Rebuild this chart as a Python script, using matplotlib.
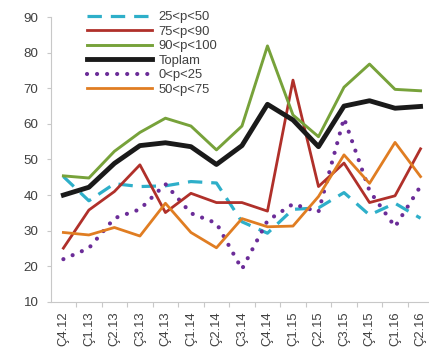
import matplotlib
matplotlib.use("Agg")
import matplotlib.pyplot as plt

plt.rcParams['font.family'] = ['Liberation Sans', 'DejaVu Sans']

quarters = ["Ç4.12", "Ç1.13", "Ç2.13", "Ç3.13", "Ç4.13", "Ç1.14", "Ç2.14", "Ç3.14",
            "Ç4.14", "Ç1.15", "Ç2.15", "Ç3.15", "Ç4.15", "Ç1.16", "Ç2.16"]

p25_50 = [45.2, 38.4, 43.2, 42.4, 42.6, 43.8, 43.4, 32.5, 29.3, 36.0, 36.4, 40.7, 34.4, 37.7, 33.5]
p75_90 = [25.1, 35.8, 41.0, 48.5, 35.1, 40.5, 37.9, 37.9, 35.5, 72.3, 42.4, 49.0, 37.9, 39.8, 53.0]
p90_100 = [45.4, 44.8, 52.3, 57.6, 61.6, 59.4, 52.7, 59.4, 81.9, 62.5, 56.4, 70.3, 76.8, 69.7, 69.3]
toplam = [40.0, 42.2, 48.9, 53.9, 54.7, 53.6, 48.6, 53.9, 65.5, 61.1, 53.6, 65.0, 66.5, 64.4, 64.9]
p0_25 = [22.0, 25.1, 33.5, 36.0, 43.1, 34.9, 32.1, 19.2, 32.8, 37.5, 35.3, 61.6, 41.2, 31.1, 42.5]
p50_75 = [29.5, 28.8, 30.9, 28.5, 37.7, 29.5, 25.2, 33.4, 31.1, 31.3, 39.6, 51.3, 43.3, 54.8, 45.2]

fig = plt.figure(figsize=(4.29, 3.49), dpi=100)
ax = fig.add_axes([0.118, 0.135, 0.892, 0.816])

x = list(range(len(quarters)))

ax.plot(x, p25_50, color="#2EAFC9", lw=2.3, linestyle=(0, (4.5, 2.8)), label="25<p<50", zorder=3)
ax.plot(x, p75_90, color="#B0302A", lw=2.0, label="75<p<90", zorder=4)
ax.plot(x, p90_100, color="#77A23A", lw=2.1, label="90<p<100", zorder=4)
ax.plot(x, toplam, color="#1A1A1A", lw=3.5, label="Toplam", zorder=5)
ax.plot(x, p0_25, color="#6B2C98", lw=3.0, linestyle=(0, (0.01, 2.4)),
        dash_capstyle="round", solid_capstyle="round", label="0<p<25", zorder=3)
ax.plot(x, p50_75, color="#E07D22", lw=2.0, label="50<p<75", zorder=4)

ax.set_xlim(-0.5, len(quarters) - 0.5)
ax.set_ylim(10, 90)
ax.set_yticks(range(10, 91, 10))
ax.set_xticks(x)
ax.set_xticklabels(quarters, rotation=90, fontsize=9.4, color="#404040")
ax.set_xticks([i + 0.5 for i in x[:-1]], minor=True)
ax.tick_params(axis="x", which="major", length=0, pad=7)
ax.tick_params(axis="x", which="minor", length=3.5, color="#C8C8C8", width=0.8)
ax.tick_params(axis="y", length=2.8, color="#C8C8C8", width=0.8, labelsize=9.6,
               labelcolor="#404040", pad=6)

for side in ("top", "right"):
    ax.spines[side].set_visible(False)
for side in ("left", "bottom"):
    ax.spines[side].set_color("#C8C8C8")
    ax.spines[side].set_linewidth(0.8)

leg = ax.legend(loc="upper left", bbox_to_anchor=(0.203, 0.968), bbox_transform=fig.transFigure,
                frameon=False, fontsize=9.4, handlelength=5.0, handletextpad=0.45,
                labelspacing=0.18, borderpad=0, borderaxespad=0)
for t in leg.get_texts():
    t.set_color("#404040")

fig.savefig("out.png", dpi=100)
